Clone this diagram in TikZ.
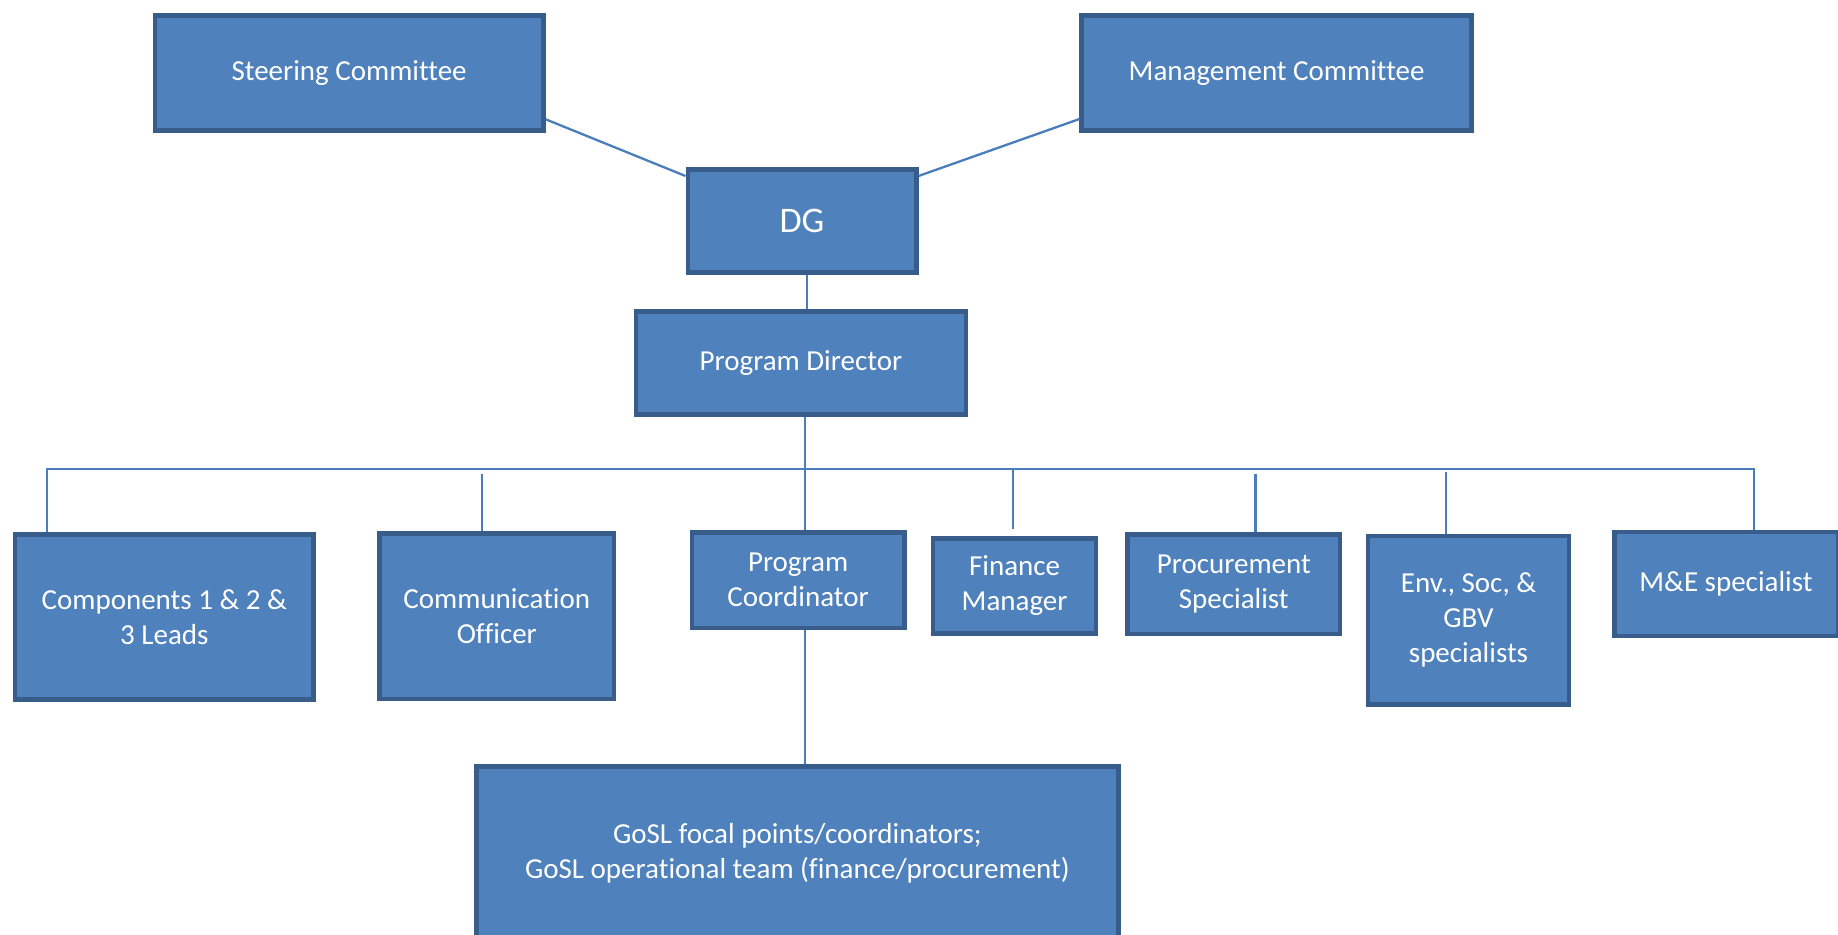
\documentclass[tikz,border=0pt]{standalone}
\usepackage{fontspec}
\setmainfont{Carlito}[Ligatures=NoCommon]
\definecolor{boxfill}{HTML}{4F81BD}
\definecolor{boxline}{HTML}{385D8A}
\definecolor{conn}{HTML}{4A7EBB}
\begin{document}
\begin{tikzpicture}[x=1pt,y=-1pt,
  orgbox/.style={rectangle, fill=boxfill, draw=boxline, line width=4.5pt,
    text=white, align=center, inner sep=0pt,
    font=\fontsize{29}{35}\selectfont},
  link/.style={draw=conn, line width=2.3pt}]
\useasboundingbox (0,0) rectangle (1838,934);
\clip (0,0) rectangle (1838,934);
% boxes (sizes = outer size minus border width)
\node[orgbox, minimum width=388.7pt, minimum height=114.5pt] (steer) at (349.1,73) {Steering Committee};
\node[orgbox, minimum width=389.8pt, minimum height=114.5pt] (mgmt) at (1276.6,73) {Management Committee};
\node[orgbox, minimum width=228.5pt, minimum height=103.1pt, font=\fontsize{36}{42}\selectfont] (dg) at (802,221) {DG};
\node[orgbox, minimum width=329.7pt, minimum height=103.2pt] (pd) at (800.9,363) {Program Director};
\node[orgbox, minimum width=298.3pt, minimum height=164.8pt] (comp) at (164.3,617) {Components 1 \& 2 \&\\3 Leads};
\node[orgbox, minimum width=234.4pt, minimum height=165.5pt] (comm) at (496.8,616) {Communication\\Officer};
\node[orgbox, minimum width=212.7pt, minimum height=95.5pt] (pc) at (798.1,580) {Program\\Coordinator};
\node[orgbox, minimum width=162.8pt, minimum height=95.2pt] (fin) at (1014.6,586) {Finance\\Manager};
\node[orgbox, minimum width=212.6pt, minimum height=99.5pt] (proc) at (1233.8,584) {Procurement\\Specialist};
\node[orgbox, minimum width=200.9pt, minimum height=168.5pt] (env) at (1468.5,620) {Env., Soc, \&\\GBV\\specialists};
\node[orgbox, minimum width=223.5pt, minimum height=103.8pt] (me) at (1726,584) {M\&E specialist};
\node[orgbox, minimum width=641.8pt, minimum height=173.5pt] (gosl) at (797.4,853) {GoSL focal points/coordinators;\\GoSL operational team (finance/procurement)};
% connectors
\draw[link] (steer.east |- 0,119.3) -- (dg.west |- 0,176);
\draw[link] (mgmt.west |- 0,119) -- (dg.east |- 0,176);
\draw[link] (dg.south -| 807,0) -- (pd.north -| 807,0);
\coordinate (busL) at (47,469);
\coordinate (busR) at (1754,469);
\draw[link] (comp.north -| busL) -- (busL) -- (busR) -- (me.north -| busR);
\draw[link] (pd.south -| 805,0) -- (pc.north -| 805,0);
\coordinate (tComm) at (482,474);
\draw[link] (tComm) -- (tComm |- comm.north);
\coordinate (tFin) at (1013,469);
\draw[link] (tFin) -- (1013,529);
\coordinate (tProc) at (1255.4,474);
\draw[link] (tProc) -- (tProc |- proc.north);
\coordinate (tEnv) at (1446.2,472);
\draw[link] (tEnv) -- (tEnv |- env.north);
\draw[link] (pc.south -| 805,0) -- (gosl.north -| 805,0);
\end{tikzpicture}
\end{document}
